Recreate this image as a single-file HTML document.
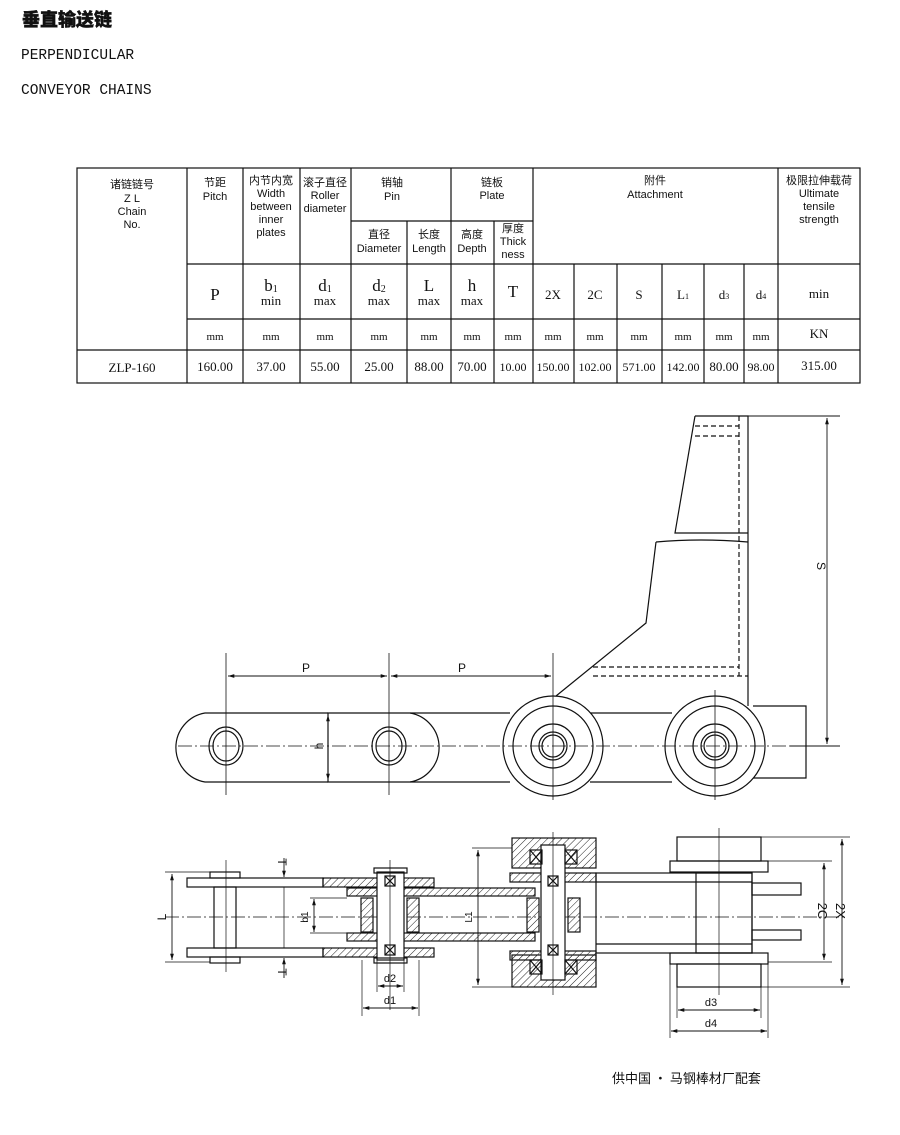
<!DOCTYPE html>
<html><head><meta charset="utf-8"><style>
html,body{margin:0;padding:0;background:#fff;}
svg{display:block;}
.h{font-family:"Liberation Sans","Noto Sans CJK SC",sans-serif;font-size:11px;fill:#111;text-anchor:middle;}
.v{font-family:"Liberation Serif","Noto Serif CJK SC",serif;font-size:13px;fill:#111;text-anchor:middle;}
.n{font-family:"Liberation Serif",serif;font-size:12px;fill:#111;text-anchor:middle;}
.b{font-family:"Liberation Serif",serif;font-size:17px;fill:#111;text-anchor:middle;}
.d{font-family:"Liberation Sans",sans-serif;font-size:12px;fill:#111;text-anchor:middle;}
</style></head><body>
<svg width="900" height="1135" viewBox="0 0 900 1135" xmlns="http://www.w3.org/2000/svg">
<defs>
<pattern id="ht" width="5" height="5" patternUnits="userSpaceOnUse" patternTransform="rotate(45)"><line x1="0" y1="0" x2="0" y2="5" stroke="#222" stroke-width="1"/></pattern>
<marker id="a" viewBox="0 0 10 10" refX="10" refY="5" markerWidth="7" markerHeight="7" orient="auto-start-reverse"><path d="M0,2 L10,5 L0,8 z" fill="#111"/></marker>
</defs>
<text x="22" y="26" style="font-family:'Noto Sans CJK SC',sans-serif;font-weight:900;font-size:18px" fill="#111" stroke="#111" stroke-width="0.4">垂直输送链</text>
<text x="21" y="59" style="font-family:'Liberation Mono',monospace;font-size:14.5px" fill="#111">PERPENDICULAR</text>
<text x="21" y="94" style="font-family:'Liberation Mono',monospace;font-size:14.5px" fill="#111">CONVEYOR CHAINS</text>

<!-- TABLE -->
<g stroke="#111" stroke-width="1.2" fill="none">
<rect x="77" y="168" width="783" height="215"/>
<line x1="187" y1="168" x2="187" y2="383"/>
<line x1="243" y1="168" x2="243" y2="383"/>
<line x1="300" y1="168" x2="300" y2="383"/>
<line x1="351" y1="168" x2="351" y2="383"/>
<line x1="407" y1="221" x2="407" y2="383"/>
<line x1="451" y1="168" x2="451" y2="383"/>
<line x1="494" y1="221" x2="494" y2="383"/>
<line x1="533" y1="168" x2="533" y2="383"/>
<line x1="574" y1="264" x2="574" y2="383"/>
<line x1="617" y1="264" x2="617" y2="383"/>
<line x1="662" y1="264" x2="662" y2="383"/>
<line x1="704" y1="264" x2="704" y2="383"/>
<line x1="744" y1="264" x2="744" y2="383"/>
<line x1="778" y1="168" x2="778" y2="383"/>
<line x1="351" y1="221" x2="533" y2="221"/>
<line x1="187" y1="264" x2="860" y2="264"/>
<line x1="187" y1="319" x2="860" y2="319"/>
<line x1="77" y1="350" x2="860" y2="350"/>
</g>
<text class="h" x="132" y="188">诸链链号</text>
<text class="h" x="132" y="202">Z L</text>
<text class="h" x="132" y="215">Chain</text>
<text class="h" x="132" y="228">No.</text>
<text class="h" x="215" y="186">节距</text>
<text class="h" x="215" y="200">Pitch</text>
<text class="h" x="271" y="184">内节内宽</text>
<text class="h" x="271" y="197">Width</text>
<text class="h" x="271" y="210">between</text>
<text class="h" x="271" y="223">inner</text>
<text class="h" x="271" y="236">plates</text>
<text class="h" x="325" y="186">滚子直径</text>
<text class="h" x="325" y="199">Roller</text>
<text class="h" x="325" y="212">diameter</text>
<text class="h" x="392" y="186">销轴</text>
<text class="h" x="392" y="200">Pin</text>
<text class="h" x="492" y="186">链板</text>
<text class="h" x="492" y="199">Plate</text>
<text class="h" x="379" y="238">直径</text>
<text class="h" x="379" y="252">Diameter</text>
<text class="h" x="429" y="238">长度</text>
<text class="h" x="429" y="252">Length</text>
<text class="h" x="472" y="238">高度</text>
<text class="h" x="472" y="252">Depth</text>
<text class="h" x="513" y="232">厚度</text>
<text class="h" x="513" y="245">Thick</text>
<text class="h" x="513" y="258">ness</text>
<text class="h" x="655" y="184">附件</text>
<text class="h" x="655" y="198">Attachment</text>
<text class="h" x="819" y="184">极限拉伸载荷</text>
<text class="h" x="819" y="197">Ultimate</text>
<text class="h" x="819" y="210">tensile</text>
<text class="h" x="819" y="223">strength</text>

<text class="b" x="215" y="300">P</text>
<text class="b" x="271" y="291">b<tspan font-size="10" dy="1">1</tspan></text><text class="v" x="271" y="305">min</text>
<text class="b" x="325" y="291">d<tspan font-size="10" dy="1">1</tspan></text><text class="v" x="325" y="305">max</text>
<text class="b" x="379" y="291">d<tspan font-size="10" dy="1">2</tspan></text><text class="v" x="379" y="305">max</text>
<text class="b" x="429" y="291">L</text><text class="v" x="429" y="305">max</text>
<text class="b" x="472" y="291">h</text><text class="v" x="472" y="305">max</text>
<text class="b" x="513" y="297">T</text>
<text class="v" x="553" y="299">2X</text>
<text class="v" x="595" y="299">2C</text>
<text class="v" x="639" y="299">S</text>
<text class="v" x="683" y="299">L<tspan font-size="8">1</tspan></text>
<text class="v" x="724" y="299">d<tspan font-size="8">3</tspan></text>
<text class="v" x="761" y="299">d<tspan font-size="8">4</tspan></text>
<text class="v" x="819" y="298">min</text>
<text class="v" style="font-size:11px" x="215" y="340">mm</text>
<text class="v" style="font-size:11px" x="271" y="340">mm</text>
<text class="v" style="font-size:11px" x="325" y="340">mm</text>
<text class="v" style="font-size:11px" x="379" y="340">mm</text>
<text class="v" style="font-size:11px" x="429" y="340">mm</text>
<text class="v" style="font-size:11px" x="472" y="340">mm</text>
<text class="v" style="font-size:11px" x="513" y="340">mm</text>
<text class="v" style="font-size:11px" x="553" y="340">mm</text>
<text class="v" style="font-size:11px" x="595" y="340">mm</text>
<text class="v" style="font-size:11px" x="639" y="340">mm</text>
<text class="v" style="font-size:11px" x="683" y="340">mm</text>
<text class="v" style="font-size:11px" x="724" y="340">mm</text>
<text class="v" style="font-size:11px" x="761" y="340">mm</text>
<text class="v" x="819" y="338">KN</text>
<text class="v" x="132" y="372">ZLP-160</text>
<text class="v" x="215" y="371">160.00</text>
<text class="v" x="271" y="371">37.00</text>
<text class="v" x="325" y="371">55.00</text>
<text class="v" x="379" y="371">25.00</text>
<text class="v" x="429" y="371">88.00</text>
<text class="v" x="472" y="371">70.00</text>
<text class="n" x="513" y="371">10.00</text>
<text class="n" x="553" y="371">150.00</text>
<text class="n" x="595" y="371">102.00</text>
<text class="n" x="639" y="371">571.00</text>
<text class="n" x="683" y="371">142.00</text>
<text class="v" x="724" y="371">80.00</text>
<text class="n" x="761" y="371">98.00</text>
<text class="v" x="819" y="370">315.00</text>

<!-- SIDE VIEW -->
<g stroke="#111" stroke-width="1.2" fill="none">
<path d="M695,416 L748,416 L748,706 M695,416 L675,533 L748,533"/>
<path d="M656,542 Q700,538 748,542 M656,542 L646,623 L556,696"/>
<g stroke-dasharray="5,3">
<path d="M739,416 L739,676 M593,667 L739,667 M593,676 L748,676 M695,426 L739,426 M695,436 L739,436"/>
</g>
<path d="M328,713 L205,713 A35,35 0 0 0 205,782 L328,782"/>
<path d="M328,713 L410,713 A35,35 0 0 1 410,782 L328,782 Z"/>
<line x1="410" y1="713" x2="510" y2="713"/>
<line x1="410" y1="782" x2="510" y2="782"/>
<line x1="590" y1="713" x2="672" y2="713"/>
<line x1="590" y1="782" x2="672" y2="782"/>
<path d="M753,706 L806,706 L806,778 L753,778"/>
<circle cx="553" cy="746" r="50" fill="#fff"/>
<circle cx="553" cy="746" r="40"/>
<circle cx="553" cy="746" r="22"/>
<circle cx="553" cy="746" r="14"/>
<circle cx="553" cy="746" r="11"/>
<circle cx="715" cy="746" r="50" fill="#fff"/>
<circle cx="715" cy="746" r="40"/>
<circle cx="715" cy="746" r="22"/>
<circle cx="715" cy="746" r="14"/>
<circle cx="715" cy="746" r="11"/>
<ellipse cx="226" cy="746" rx="17" ry="19"/>
<ellipse cx="226" cy="746" rx="13" ry="15"/>
<ellipse cx="389" cy="746" rx="17" ry="19"/>
<ellipse cx="389" cy="746" rx="13" ry="15"/>
<line x1="178" y1="746" x2="840" y2="746" stroke-width="0.8" stroke-dasharray="14,3,2,3"/>
<line x1="226" y1="653" x2="226" y2="795" stroke-width="0.8"/>
<line x1="389" y1="653" x2="389" y2="795" stroke-width="0.8"/>
<line x1="553" y1="653" x2="553" y2="800" stroke-width="0.8"/>
<line x1="715" y1="690" x2="715" y2="800" stroke-width="0.8"/>
<line x1="228" y1="676" x2="387" y2="676" stroke-width="0.9" marker-start="url(#a)" marker-end="url(#a)"/>
<line x1="391" y1="676" x2="551" y2="676" stroke-width="0.9" marker-start="url(#a)" marker-end="url(#a)"/>
<line x1="328" y1="715" x2="328" y2="780" stroke-width="0.9" marker-start="url(#a)" marker-end="url(#a)"/>
<line x1="748" y1="416" x2="840" y2="416" stroke-width="0.9"/>
<line x1="790" y1="746" x2="840" y2="746" stroke-width="0.9"/>
<line x1="827" y1="418" x2="827" y2="744" stroke-width="0.9" marker-start="url(#a)" marker-end="url(#a)"/>
</g>
<text class="d" x="306" y="672">P</text>
<text class="d" x="462" y="672">P</text>
<text class="d" transform="translate(323,746) rotate(-90)">h</text>
<text class="d" transform="translate(817,566) rotate(90)">S</text>

<!-- TOP VIEW -->
<g stroke="#111" stroke-width="1.2" fill="none">
<line x1="165" y1="917" x2="845" y2="917" stroke-width="0.8" stroke-dasharray="14,3,2,3"/>
<rect x="187" y="878" width="136" height="9"/>
<rect x="187" y="948" width="136" height="9"/>
<rect x="323" y="878" width="111" height="9" fill="url(#ht)"/>
<rect x="323" y="948" width="111" height="9" fill="url(#ht)"/>
<rect x="214" y="887" width="22" height="61"/>
<rect x="210" y="872" width="30" height="6"/>
<rect x="210" y="957" width="30" height="6"/>
<line x1="226" y1="860" x2="226" y2="972" stroke-width="0.7"/>
<rect x="347" y="888" width="188" height="8" fill="url(#ht)"/>
<rect x="347" y="933" width="188" height="8" fill="url(#ht)"/>
<rect x="361" y="898" width="12" height="34" fill="url(#ht)"/>
<rect x="407" y="898" width="12" height="34" fill="url(#ht)"/>
<rect x="527" y="898" width="12" height="34" fill="url(#ht)"/>
<rect x="568" y="898" width="12" height="34" fill="url(#ht)"/>
<rect x="377" y="872" width="27" height="88" fill="#fff"/>
<rect x="374" y="868" width="33" height="5"/>
<rect x="374" y="958" width="33" height="5"/>
<rect x="385" y="876" width="10" height="10"/><path d="M385,876 L395,886 M395,876 L385,886"/>
<rect x="385" y="945" width="10" height="10"/><path d="M385,945 L395,955 M395,945 L385,955"/>
<line x1="390" y1="860" x2="390" y2="1010" stroke-width="0.7"/>
<rect x="512" y="838" width="84" height="30" fill="url(#ht)"/>
<rect x="512" y="955" width="84" height="32" fill="url(#ht)"/>
<rect x="510" y="873" width="86" height="9" fill="url(#ht)"/>
<rect x="510" y="951" width="86" height="9" fill="url(#ht)"/>
<rect x="541" y="845" width="24" height="135" fill="#fff"/>
<rect x="530" y="850" width="12" height="14"/><path d="M530,850 L542,864 M542,850 L530,864"/>
<rect x="565" y="850" width="12" height="14"/><path d="M565,850 L577,864 M577,850 L565,864"/>
<rect x="530" y="960" width="12" height="14"/><path d="M530,960 L542,974 M542,960 L530,974"/>
<rect x="565" y="960" width="12" height="14"/><path d="M565,960 L577,974 M577,960 L565,974"/>
<rect x="548" y="876" width="10" height="10"/><path d="M548,876 L558,886 M558,876 L548,886"/>
<rect x="548" y="945" width="10" height="10"/><path d="M548,945 L558,955 M558,945 L548,955"/>
<line x1="553" y1="832" x2="553" y2="995" stroke-width="0.7"/>
<rect x="596" y="873" width="156" height="80"/>
<line x1="596" y1="882" x2="752" y2="882"/>
<line x1="596" y1="944" x2="752" y2="944"/>
<rect x="696" y="873" width="56" height="80"/>
<rect x="752" y="883" width="49" height="12"/>
<rect x="752" y="930" width="49" height="10"/>
<rect x="677" y="837" width="84" height="24"/>
<rect x="670" y="861" width="98" height="11"/>
<rect x="670" y="953" width="98" height="11"/>
<rect x="677" y="964" width="84" height="23"/>
<line x1="719" y1="828" x2="719" y2="995" stroke-width="0.7"/>
<line x1="172" y1="874" x2="172" y2="960" stroke-width="0.9" marker-start="url(#a)" marker-end="url(#a)"/>
<line x1="165" y1="872" x2="210" y2="872" stroke-width="0.7"/>
<line x1="165" y1="962" x2="210" y2="962" stroke-width="0.7"/>
<line x1="284" y1="858" x2="284" y2="877" stroke-width="0.9" marker-end="url(#a)"/>
<line x1="284" y1="978" x2="284" y2="958" stroke-width="0.9" marker-end="url(#a)"/>
<line x1="284" y1="887" x2="284" y2="948" stroke-width="0.7"/>
<line x1="314" y1="899" x2="314" y2="932" stroke-width="0.9" marker-start="url(#a)" marker-end="url(#a)"/>
<line x1="310" y1="898" x2="347" y2="898" stroke-width="0.7"/>
<line x1="310" y1="933" x2="347" y2="933" stroke-width="0.7"/>
<line x1="478" y1="850" x2="478" y2="985" stroke-width="0.9" marker-start="url(#a)" marker-end="url(#a)"/>
<line x1="472" y1="848" x2="512" y2="848" stroke-width="0.7"/>
<line x1="472" y1="987" x2="512" y2="987" stroke-width="0.7"/>
<line x1="377" y1="960" x2="377" y2="992" stroke-width="0.7"/>
<line x1="404" y1="960" x2="404" y2="992" stroke-width="0.7"/>
<line x1="378" y1="986" x2="403" y2="986" stroke-width="0.9" marker-start="url(#a)" marker-end="url(#a)"/>
<line x1="362" y1="960" x2="362" y2="1016" stroke-width="0.7"/>
<line x1="419" y1="960" x2="419" y2="1016" stroke-width="0.7"/>
<line x1="363" y1="1008" x2="418" y2="1008" stroke-width="0.9" marker-start="url(#a)" marker-end="url(#a)"/>
<line x1="677" y1="987" x2="677" y2="1018" stroke-width="0.7"/>
<line x1="761" y1="987" x2="761" y2="1018" stroke-width="0.7"/>
<line x1="678" y1="1010" x2="760" y2="1010" stroke-width="0.9" marker-start="url(#a)" marker-end="url(#a)"/>
<line x1="670" y1="964" x2="670" y2="1038" stroke-width="0.7"/>
<line x1="768" y1="964" x2="768" y2="1038" stroke-width="0.7"/>
<line x1="671" y1="1031" x2="767" y2="1031" stroke-width="0.9" marker-start="url(#a)" marker-end="url(#a)"/>
<line x1="768" y1="861" x2="832" y2="861" stroke-width="0.7"/>
<line x1="768" y1="962" x2="832" y2="962" stroke-width="0.7"/>
<line x1="761" y1="837" x2="850" y2="837" stroke-width="0.7"/>
<line x1="761" y1="987" x2="850" y2="987" stroke-width="0.7"/>
<line x1="824" y1="863" x2="824" y2="960" stroke-width="0.9" marker-start="url(#a)" marker-end="url(#a)"/>
<line x1="842" y1="839" x2="842" y2="985" stroke-width="0.9" marker-start="url(#a)" marker-end="url(#a)"/>
</g>
<text class="d" x="278" y="862" transform="rotate(90 278 862)">T</text>
<text class="d" x="278" y="972" transform="rotate(90 278 972)">T</text>
<text class="d" transform="translate(166,917) rotate(-90)">L</text>
<text class="d" style="font-size:10px" transform="translate(308,917) rotate(-90)">b1</text>
<text class="d" style="font-size:10px" transform="translate(472,917) rotate(-90)">L1</text>
<text class="d" style="font-size:11px" x="390" y="982">d2</text>
<text class="d" style="font-size:11px" x="390" y="1004">d1</text>
<text class="d" style="font-size:11px" x="711" y="1006">d3</text>
<text class="d" style="font-size:11px" x="711" y="1027">d4</text>
<text class="d" style="font-size:13px" transform="translate(818,911) rotate(90)">2C</text>
<text class="d" style="font-size:13px" transform="translate(836,911) rotate(90)">2X</text>

<text x="612" y="1083" style="font-family:'Noto Sans CJK SC',sans-serif;font-size:13px" fill="#111">供中国 • 马钢棒材厂配套</text>
</svg>
</body></html>
